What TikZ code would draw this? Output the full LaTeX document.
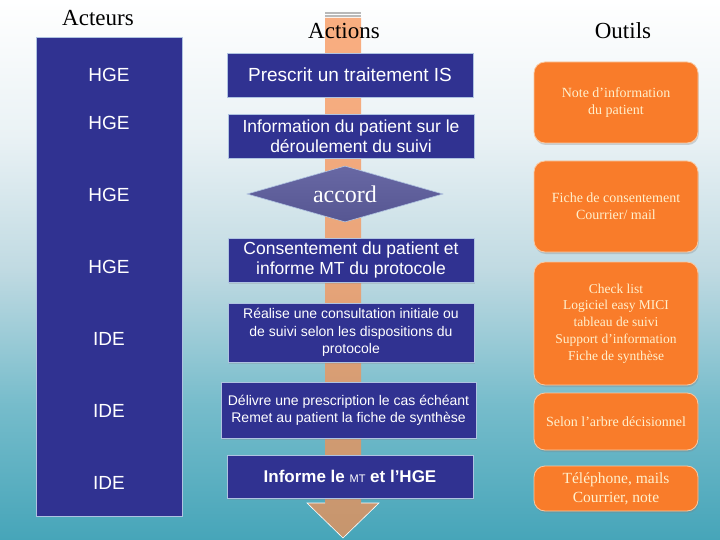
\documentclass[tikz,border=0pt]{standalone}
\usepackage{fontspec}
\setmainfont{Liberation Serif}
\newfontfamily\arial{Liberation Sans}
\usetikzlibrary{shapes.geometric,shadows}
\definecolor{boxblue}{RGB}{48,50,145}
\definecolor{boxedge}{RGB}{175,195,225}
\definecolor{diatop}{RGB}{104,104,164}
\definecolor{diabot}{RGB}{86,86,146}
\definecolor{arroworange}{RGB}{248,144,81}
\definecolor{stripegray}{RGB}{185,185,185}
\definecolor{toolor}{RGB}{249,124,42}
\definecolor{tooledge}{RGB}{250,200,160}
\definecolor{tooltext}{RGB}{255,240,205}
\definecolor{bgA}{RGB}{70,165,185}
\definecolor{bgB}{RGB}{118,188,203}
\definecolor{bgC}{RGB}{192,218,226}
\definecolor{bgD}{RGB}{234,242,245}
\definecolor{bgE}{RGB}{255,255,255}
\pgfdeclareverticalshading{bgshade}{100bp}{color(0bp)=(bgA); color(25bp)=(bgA); color(37.5bp)=(bgB); color(50bp)=(bgC); color(62.5bp)=(bgD); color(75bp)=(bgE); color(100bp)=(bgE)}
\tikzset{
  actbox/.style={rectangle, fill=boxblue, draw=boxedge, line width=0.7pt, text=white, align=center, inner sep=0pt,
    drop shadow={opacity=0.25, shadow xshift=0.8pt, shadow yshift=-1.5pt}},
  toolbox/.style={rectangle, rounded corners=11pt, fill=toolor, draw=tooledge, line width=0.8pt, text=tooltext, align=center, inner sep=0pt,
    minimum width=164pt, drop shadow={opacity=0.3, shadow xshift=0.8pt, shadow yshift=-2pt},
    font=\fontsize{14}{17}\selectfont},
  actor/.style={text=white, font=\arial\fontsize{19}{22}\selectfont},
  title/.style={text=black, font=\fontsize{23}{26}\selectfont},
}
\begin{document}
\begin{tikzpicture}[x=1pt,y=-1pt]
\useasboundingbox (0,0) rectangle (720,540);
\shade[shading=bgshade] (0,0) rectangle (720,540);

% titles
\node[title] (tActeurs) at (98,18) {Acteurs};
\node[title] (tOutils) at (623,31) {Outils};

% actors column
\node[rectangle, fill=boxblue, draw=boxedge, line width=0.7pt, minimum width=146pt, minimum height=479pt, inner sep=0pt] (actors) at (109,276.5) {};
\node[actor] (r1) at (109,75) {HGE};
\node[actor] (r2) at (109,123) {HGE};
\node[actor] (r3) at (109,195) {HGE};
\node[actor] (r4) at (109,267) {HGE};
\node[actor] (r5) at (109,339) {IDE};
\node[actor] (r6) at (109,411) {IDE};
\node[actor] (r7) at (109,483) {IDE};

% big striped arrow behind actions
\fill[arroworange, opacity=0.72] (325,18) -- (361,18) -- (361,503) -- (379,503) -- (343,538) -- (307,503) -- (325,503) -- cycle;
\draw[white, line width=0.6pt] (325,503) -- (307,503) -- (343,538) -- (379,503) -- (361,503);
\fill[stripegray] (325,12) rectangle (361,13.6);
\fill[stripegray] (325,15) rectangle (361,16.6);
\node[title] (tActions) at (344,31) {Actions};

% actions
\node[actbox, minimum width=246pt, minimum height=44pt, font=\arial\fontsize{19}{22}\selectfont] (a1) at (350,75) {Prescrit un traitement IS};
\node[actbox, minimum width=246pt, minimum height=44pt, font=\arial\fontsize{17.5}{20}\selectfont] (a2) at (351,136) {Information du patient sur le\\déroulement du suivi};
\node[diamond, aspect=3.5, minimum width=196pt, minimum height=56pt, inner sep=0pt, top color=diatop, bottom color=diabot, draw=boxedge, line width=0.6pt, text=white, font=\fontsize{24}{26}\selectfont] (a3) at (345,194) {accord};
\node[actbox, minimum width=246pt, minimum height=44pt, font=\arial\fontsize{17.5}{20}\selectfont] (a4) at (351,260) {Consentement du patient et\\informe MT du protocole};
\node[actbox, minimum width=246pt, minimum height=59pt, font=\arial\fontsize{14}{17.5}\selectfont] (a5) at (351,332.5) {Réalise une consultation initiale ou\\de suivi selon les dispositions du\\protocole};
\node[actbox, minimum width=255pt, minimum height=56pt, font=\arial\fontsize{14}{17}\selectfont] (a6) at (348.5,410) {Délivre une prescription le cas échéant\\Remet au patient la fiche de synthèse};
\node[actbox, minimum width=246pt, minimum height=43pt, font=\arial\bfseries\fontsize{17}{20}\selectfont] (a7) at (350,476.5) {Informe le {\mdseries\fontsize{11}{13}\selectfont MT} et l’HGE};

% tools
\node[toolbox, minimum height=81pt] (o1) at (616,102.5) {Note d’information\\du patient};
\node[toolbox, minimum height=91pt] (o2) at (616,206.5) {Fiche de consentement\\Courrier/ mail};
\node[toolbox, minimum height=123pt, font=\fontsize{13.5}{16.8}\selectfont] (o3) at (616,323.5) {Check list\\Logiciel easy MICI\\tableau de suivi\\Support d’information\\Fiche de synthèse};
\node[toolbox, minimum height=57pt] (o4) at (616,421.5) {Selon l’arbre décisionnel};
\node[toolbox, minimum height=45pt, font=\fontsize{15.5}{19}\selectfont] (o5) at (616,488.5) {Téléphone, mails\\Courrier, note};
\end{tikzpicture}
\end{document}
